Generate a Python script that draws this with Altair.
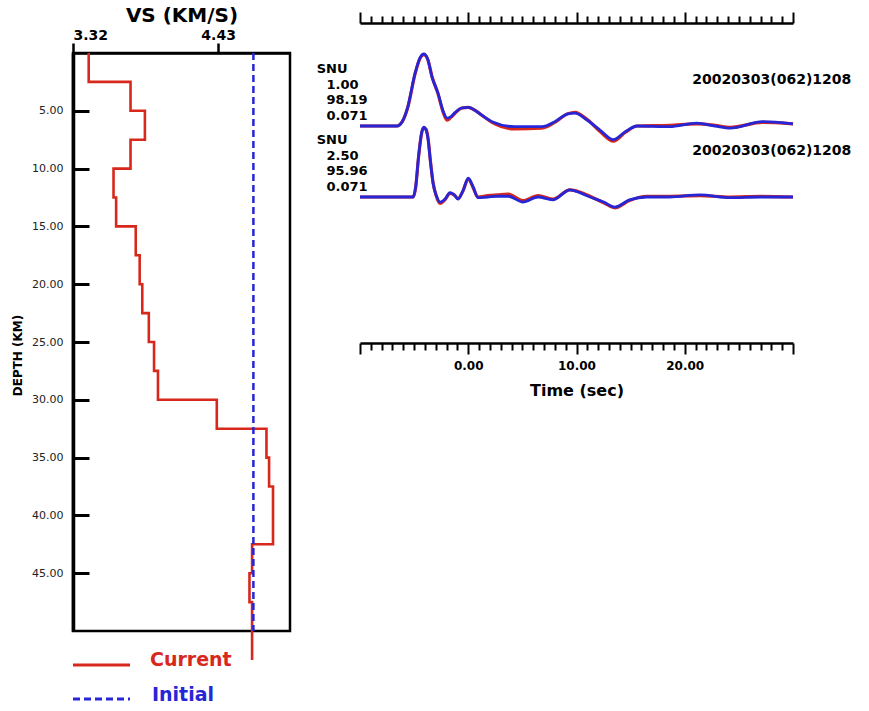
import altair as alt
import pandas as pd

FONT = "DejaVu Sans"
RED = "#d8281c"
BLUE = "#2626d6"

# ---------------- velocity model ----------------
layer_top = [0, 2.5, 5, 7.5, 10, 12.5, 15, 17.5, 20, 22.5, 25, 27.5, 30, 32.5, 35, 37.5, 40, 42.5, 45, 47.5]
layer_thick = [2.5, 2.5, 2.5, 2.5, 2.5, 2.5, 2.5, 2.5, 2.5, 2.5, 2.5, 2.5, 2.5, 2.5, 2.5, 2.5, 2.5, 2.5, 2.5, 5.0]
vs_current = [3.44, 3.76, 3.87, 3.76, 3.63, 3.65, 3.80, 3.83, 3.85, 3.90, 3.94, 3.97,
              4.42, 4.80, 4.82, 4.85, 4.85, 4.69, 4.67, 4.69]
vs_initial = [4.70, 4.70]
depth_initial = [0, 50]

vs_ticks = [3.32, 4.43]
depth_ticks = [5, 10, 15, 20, 25, 30, 35, 40, 45]
legend_names = ["Current", "Initial"]

# ---------------- receiver functions ----------------
stations = ["SNU", "SNU"]
alphas = ["1.00", "2.50"]
fits = ["98.19", "95.96"]
rayps = ["0.071", "0.071"]
event_ids = ["20020303(062)1208", "20020303(062)1208"]
trace_offsets = [0.0, -0.986]

t1 = [-10, -6.6, -6.1, -5.6, -4.9, -4.45, -4.1, -3.75, -3.35, -2.8, -2.3, -1.95, -1.6, -1.2, -0.6, 0.0,
      0.6, 1.25, 2.2, 4.3, 6.8, 8.0, 9.2, 9.85, 11.0, 12.2, 13.4, 14.5, 15.6, 18.6, 21.1, 22.8, 24.2, 27.2, 30.0]
blue1 = [0, 0, 0.06, 0.26, 0.74, 0.95, 1.0, 0.93, 0.68, 0.46, 0.20, 0.11, 0.13, 0.19, 0.25, 0.26,
         0.22, 0.15, 0.06, -0.01, -0.01, 0.06, 0.17, 0.18, 0.08, -0.06, -0.19, -0.08, 0.0, -0.01, 0.04, 0.0, -0.03, 0.06, 0.03]
red1 = [0, 0, 0.06, 0.25, 0.73, 0.94, 0.99, 0.93, 0.69, 0.45, 0.18, 0.08, 0.12, 0.18, 0.25, 0.26,
        0.22, 0.15, 0.05, -0.04, -0.03, 0.05, 0.17, 0.19, 0.09, -0.08, -0.21, -0.09, 0.0, 0.01, 0.03, 0.01, -0.02, 0.05, 0.03]

t2 = [-10, -5.1, -4.85, -4.6, -4.3, -4.1, -3.9, -3.7, -3.5, -3.25, -2.95, -2.6, -2.1, -1.7, -1.3, -0.95,
      -0.5, 0.0, 0.45, 0.9, 1.8, 2.7, 3.7, 5.05, 6.45, 7.8, 9.4, 10.3, 11.25, 12.5, 13.55, 14.9, 16.5,
      18.6, 21.4, 24.2, 27.0, 30.0]
blue2 = [0, 0, 0.15, 0.55, 0.90, 0.97, 0.93, 0.79, 0.50, 0.19, 0.02, -0.07, -0.02, 0.06, 0.03, -0.03,
         0.08, 0.26, 0.14, -0.01, 0.0, 0.01, 0.01, -0.07, 0.0, -0.04, 0.10, 0.06, 0.0, -0.07, -0.14, -0.04, 0.0,
         0.0, 0.03, -0.01, 0.0, 0.0]
red2 = [0, 0, 0.14, 0.54, 0.89, 0.96, 0.94, 0.80, 0.51, 0.20, 0.01, -0.09, -0.03, 0.05, 0.03, -0.02,
        0.08, 0.25, 0.13, 0.0, 0.02, 0.03, 0.04, -0.05, 0.02, -0.03, 0.10, 0.07, 0.01, -0.08, -0.15, -0.05, 0.01,
        0.01, 0.02, 0.0, 0.01, 0.0]

# ---------------- tables ----------------
cur_rows = []
for i, (top, th, v) in enumerate(zip(layer_top, layer_thick, vs_current)):
    cur_rows.append({"vs": v, "depth": top, "o": 2 * i})
    cur_rows.append({"vs": v, "depth": top + th, "o": 2 * i + 1})
df_cur = pd.DataFrame(cur_rows)
df_init = pd.DataFrame({"vs": vs_initial, "depth": depth_initial, "o": [0, 1]})

wave_rows = {"red": [], "blue": []}
for j, (tt, rr, bb) in enumerate([(t1, red1, blue1), (t2, red2, blue2)]):
    for k, t in enumerate(tt):
        wave_rows["red"].append({"t": t, "amp": rr[k] + trace_offsets[j], "trace": j, "o": k})
        wave_rows["blue"].append({"t": t, "amp": bb[k] + trace_offsets[j], "trace": j, "o": k})
df_red = pd.DataFrame(wave_rows["red"])
df_blue = pd.DataFrame(wave_rows["blue"])

info_rows = []
for j in range(2):
    lines = [stations[j], alphas[j], fits[j], rayps[j]]
    for k, s in enumerate(lines):
        info_rows.append({"x": -14.0 if k == 0 else -13.1,
                          "y": trace_offsets[j] + 0.79 - 0.215 * k, "label": s})
df_info = pd.DataFrame(info_rows)
df_evt = pd.DataFrame({"x": [20.7, 20.7],
                       "y": [trace_offsets[0] + 0.64, trace_offsets[1] + 0.64],
                       "label": event_ids})

# ---------------- left panel: velocity model ----------------
def vs_scale():
    return alt.Scale(domain=[3.32, 4.98], nice=False, zero=False)

def dep_scale():
    return alt.Scale(domain=[0, 50], reverse=True, nice=False, zero=False)

x_vs = alt.X("vs:Q", scale=vs_scale(), axis=alt.Axis(
    orient="top", values=vs_ticks, format=".2f", labelFlush=True, labelOverlap=False,
    tickSize=10, tickWidth=2.5, tickColor="black", domainColor="black", domainWidth=2.5,
    labelFont=FONT, labelFontSize=14, labelFontWeight="bold", labelColor="black", labelPadding=1,
    title="VS (KM/S)", titleFont=FONT, titleFontSize=20, titleFontWeight="bold",
    titleColor="black", titlePadding=3, grid=False))
y_dep = alt.Y("depth:Q", scale=dep_scale(), axis=alt.Axis(
    orient="left", values=depth_ticks, format=".2f", tickSize=0, domainColor="black",
    domainWidth=3.5, labelFont=FONT, labelFontSize=11, labelColor="#222222", labelPadding=10,
    title="DEPTH (KM)", titleFont=FONT, titleFontSize=12, titleFontWeight="bold",
    titleColor="black", titlePadding=7, titleY=302, grid=False))
# inward-pointing depth ticks: a second axis placed on the left edge, ticks pointing into the box
y_inward = alt.Y("depth:Q", scale=dep_scale(), axis=alt.Axis(
    orient="right", offset=-217, values=depth_ticks, labels=False, domain=False,
    tickSize=16, tickWidth=3, tickColor="black", title=None, grid=False))

cur_line = alt.Chart(df_cur).mark_line(color=RED, strokeWidth=2.6).encode(
    x=x_vs, y=y_dep, order="o:Q")
init_line = alt.Chart(df_init).mark_line(color=BLUE, strokeWidth=2.5, strokeDash=[7, 4]).encode(
    x=alt.X("vs:Q", scale=vs_scale()), y=y_inward, order="o:Q")

leg_cur_rule = alt.Chart(pd.DataFrame({"name": [legend_names[0]]})).mark_rule(
    color=RED, strokeWidth=3).encode(x=alt.value(0), x2=alt.value(57), y=alt.value(612))
leg_ini_rule = alt.Chart(pd.DataFrame({"name": [legend_names[1]]})).mark_rule(
    color=BLUE, strokeWidth=3, strokeDash=[7, 4]).encode(x=alt.value(0), x2=alt.value(57), y=alt.value(646))
leg_cur_text = alt.Chart(pd.DataFrame({"name": [legend_names[0]]})).mark_text(
    align="left", baseline="middle", font=FONT, fontSize=19, fontWeight="bold", color=RED).encode(
    x=alt.value(77), y=alt.value(607), text="name:N")
leg_ini_text = alt.Chart(pd.DataFrame({"name": [legend_names[1]]})).mark_text(
    align="left", baseline="middle", font=FONT, fontSize=19, fontWeight="bold", color=BLUE).encode(
    x=alt.value(79), y=alt.value(642), text="name:N")

left = alt.layer(cur_line, init_line, leg_cur_rule, leg_ini_rule,
                 leg_cur_text, leg_ini_text).resolve_scale(y="independent").resolve_axis(
    y="independent").properties(
    width=217, height=578, view=alt.ViewBackground(stroke="black", strokeWidth=2.5))

# ---------------- right panel: receiver functions ----------------
time_ticks = list(range(-10, 31))
t_dom = [-10, 30]
a_dom = [-3.014, 1.014]
tick_cond = {"condition": {"test": "datum.value % 10 === 0", "value": 11}, "value": 7}

def tscale():
    return alt.Scale(domain=t_dom, nice=False, zero=False)

def ascale():
    return alt.Scale(domain=a_dom, nice=False, zero=False)

axis_bottom = alt.Axis(
    orient="bottom", values=time_ticks,
    labelExpr="datum.value % 10 === 0 && datum.value > -10 && datum.value < 30 ? format(datum.value, '.2f') : ''",
    labelOverlap=False, labelBound=False, labelFlush=False,
    tickSize=tick_cond, tickWidth=2, tickColor="black", domainColor="black", domainWidth=2.5,
    labelFont=FONT, labelFontSize=12, labelFontWeight="bold", labelColor="black", labelPadding=6,
    title="Time (sec)", titleFont=FONT, titleFontSize=16, titleFontWeight="bold",
    titleColor="black", titlePadding=11, grid=False)
axis_top = alt.Axis(
    orient="top", offset=30, values=time_ticks, labels=False,
    tickSize=tick_cond, tickWidth=2, tickColor="black", domainColor="black", domainWidth=2.5,
    title=None, grid=False)

red_wave = alt.Chart(df_red).mark_line(color=RED, strokeWidth=3.2, interpolate="monotone").encode(
    x=alt.X("t:Q", scale=tscale(), axis=axis_bottom),
    y=alt.Y("amp:Q", scale=ascale(), axis=None),
    detail="trace:N", order="o:Q")
blue_wave = alt.Chart(df_blue).mark_line(color=BLUE, strokeWidth=2.8, interpolate="monotone").encode(
    x=alt.X("t:Q", scale=tscale(), axis=axis_top),
    y=alt.Y("amp:Q", scale=ascale(), axis=None),
    detail="trace:N", order="o:Q")
info_text = alt.Chart(df_info).mark_text(
    align="left", baseline="middle", font=FONT, fontSize=13, fontWeight="bold", color="black").encode(
    x=alt.X("x:Q", scale=tscale(), axis=None),
    y=alt.Y("y:Q", scale=ascale(), axis=None), text="label:N")
evt_text = alt.Chart(df_evt).mark_text(
    align="left", baseline="middle", font=FONT, fontSize=14, fontWeight="bold", color="black").encode(
    x=alt.X("x:Q", scale=tscale(), axis=None),
    y=alt.Y("y:Q", scale=ascale(), axis=None), text="label:N")

right = alt.layer(red_wave, blue_wave, info_text, evt_text).resolve_scale(
    x="independent").resolve_axis(x="independent").properties(
    width=433, height=290, view=alt.ViewBackground(stroke="transparent"))

chart = alt.hconcat(left, right, spacing=70, bounds="flush").properties(
    padding={"left": 10, "top": 3, "right": 0, "bottom": 0},
    background="white",
).configure(font=FONT)

chart.save("out.html", embed_options={"renderer": "svg", "actions": False})
